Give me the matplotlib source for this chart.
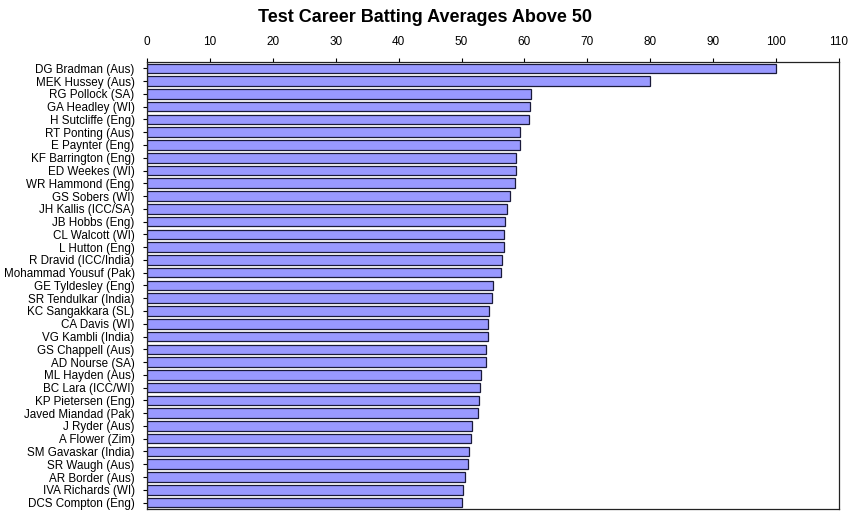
import matplotlib
matplotlib.use("Agg")
import matplotlib.pyplot as plt

players = ["DG Bradman (Aus)", "MEK Hussey (Aus)", "RG Pollock (SA)", "GA Headley (WI)",
           "H Sutcliffe (Eng)", "RT Ponting (Aus)", "E Paynter (Eng)", "KF Barrington (Eng)",
           "ED Weekes (WI)", "WR Hammond (Eng)", "GS Sobers (WI)", "JH Kallis (ICC/SA)",
           "JB Hobbs (Eng)", "CL Walcott (WI)", "L Hutton (Eng)", "R Dravid (ICC/India)",
           "Mohammad Yousuf (Pak)", "GE Tyldesley (Eng)", "SR Tendulkar (India)",
           "KC Sangakkara (SL)", "CA Davis (WI)", "VG Kambli (India)", "GS Chappell (Aus)",
           "AD Nourse (SA)", "ML Hayden (Aus)", "BC Lara (ICC/WI)", "KP Pietersen (Eng)",
           "Javed Miandad (Pak)", "J Ryder (Aus)", "A Flower (Zim)", "SM Gavaskar (India)",
           "SR Waugh (Aus)", "AR Border (Aus)", "IVA Richards (WI)", "DCS Compton (Eng)"]
averages = [99.94, 79.9, 60.97, 60.83, 60.73, 59.35, 59.23, 58.67, 58.61, 58.45,
            57.78, 57.3, 56.94, 56.68, 56.67, 56.5, 56.3, 55.0, 54.9, 54.4,
            54.2, 54.2, 53.86, 53.81, 53.1, 52.88, 52.7, 52.57, 51.62, 51.54,
            51.12, 51.06, 50.56, 50.23, 50.06]
ticks = list(range(0, 111, 10))

plt.rcParams['font.family'] = ['Liberation Sans', 'DejaVu Sans']

fig = plt.figure(figsize=(8.5, 5.12), dpi=100)
ax = fig.add_axes([0.173, 0.006, 0.814, 0.873])

ypos = list(range(len(players)))
ax.barh(ypos, averages, height=0.75, color="#9999ff", edgecolor="#1a1a3a", linewidth=0.9)

ax.set_xlim(0, 110)
ax.set_ylim(len(players) - 0.5, -0.5)
ax.set_xticks(ticks)
ax.xaxis.tick_top()
ax.tick_params(axis='x', direction='out', length=3, labelsize=8.5, pad=7)
ax.tick_params(axis='y', direction='out', length=3, labelsize=8.4, pad=6)
ax.set_yticks(ypos)
ax.set_yticklabels(players)
for s in ax.spines.values():
    s.set_linewidth(0.9)
    s.set_color("#222222")

fig.text(0.5, 0.966, "Test Career Batting Averages Above 50", ha='center', va='center',
         fontsize=13, fontweight='bold')

fig.savefig("out.png", dpi=100)
